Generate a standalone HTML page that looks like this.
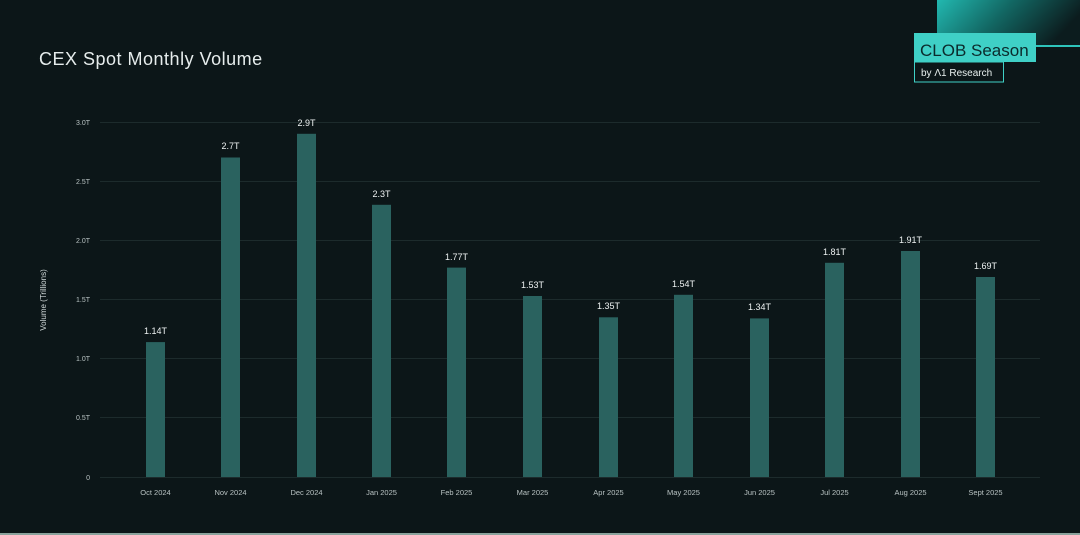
<!DOCTYPE html>
<html><head><meta charset="utf-8"><style>
html,body{margin:0;padding:0;background:#0c1618;}
svg{display:block;font-family:"Liberation Sans",sans-serif;}
</style></head><body>
<svg width="1080" height="535" viewBox="0 0 1080 535" xmlns="http://www.w3.org/2000/svg">
<defs>
<linearGradient id="g" x1="0" y1="0" x2="1" y2="0.3">
<stop offset="0" stop-color="#22b8b0"/>
<stop offset="0.5" stop-color="#126662"/>
<stop offset="1" stop-color="#0c1c1e"/>
</linearGradient>
</defs>
<rect width="1080" height="535" fill="#0c1618"/>
<rect x="0" y="533" width="1080" height="2" fill="#8aa39c"/>
<text x="39" y="65" font-size="18" letter-spacing="0.5" fill="#e6ecec">CEX Spot Monthly Volume</text>
<!-- logo -->
<rect x="937" y="0" width="143" height="46" fill="url(#g)"/>
<rect x="1036" y="45" width="44" height="2" fill="#2ec4bb"/>
<rect x="914" y="33" width="122" height="29" fill="#3fd0c6"/>
<text x="920" y="56" font-size="17" fill="#0b2b2c">CLOB Season</text>
<rect x="914.5" y="62" width="89" height="20" fill="#0c1618" stroke="#3fd0c6" stroke-width="1"/>
<text x="921" y="76" font-size="10" fill="#e8f0ef">by Λ1 Research</text>
<!-- grid -->
<g stroke="#1d2b2c" stroke-width="1">
<line x1="100" y1="122.5" x2="1040" y2="122.5"/>
<line x1="100" y1="181.5" x2="1040" y2="181.5"/>
<line x1="100" y1="240.5" x2="1040" y2="240.5"/>
<line x1="100" y1="299.5" x2="1040" y2="299.5"/>
<line x1="100" y1="358.5" x2="1040" y2="358.5"/>
<line x1="100" y1="417.5" x2="1040" y2="417.5"/>
<line x1="100" y1="477.5" x2="1040" y2="477.5"/>
</g>
<g font-size="7" fill="#b8c2c2" text-anchor="end">
<text x="90" y="125">3.0T</text><text x="90" y="184">2.5T</text><text x="90" y="243">2.0T</text>
<text x="90" y="302">1.5T</text><text x="90" y="361">1.0T</text><text x="90" y="420">0.5T</text><text x="90" y="480">0</text>
</g>
<text transform="translate(46,300) rotate(-90)" font-size="8" fill="#d0d8d8" text-anchor="middle">Volume (Trillions)</text>
<g fill="#2a625f">
<rect x="146" y="342.1" width="19" height="134.9"/>
<rect x="221" y="157.5" width="19" height="319.5"/>
<rect x="297" y="133.8" width="19" height="343.2"/>
<rect x="372" y="204.8" width="19" height="272.2"/>
<rect x="447" y="267.6" width="19" height="209.4"/>
<rect x="523" y="296" width="19" height="181"/>
<rect x="599" y="317.3" width="19" height="159.7"/>
<rect x="674" y="294.8" width="19" height="182.2"/>
<rect x="750" y="318.4" width="19" height="158.6"/>
<rect x="825" y="262.8" width="19" height="214.2"/>
<rect x="901" y="251" width="19" height="226"/>
<rect x="976" y="277" width="19" height="200"/>
</g>
<g font-size="9" fill="#eef2f2" text-anchor="middle">
<text x="155.5" y="334">1.14T</text>
<text x="230.5" y="149">2.7T</text>
<text x="306.5" y="126">2.9T</text>
<text x="381.5" y="197">2.3T</text>
<text x="456.5" y="260">1.77T</text>
<text x="532.5" y="288">1.53T</text>
<text x="608.5" y="309">1.35T</text>
<text x="683.5" y="287">1.54T</text>
<text x="759.5" y="310">1.34T</text>
<text x="834.5" y="255">1.81T</text>
<text x="910.5" y="243">1.91T</text>
<text x="985.5" y="269">1.69T</text>
</g>
<g font-size="7.5" fill="#b8c2c2" text-anchor="middle">
<text x="155.5" y="495">Oct 2024</text>
<text x="230.5" y="495">Nov 2024</text>
<text x="306.5" y="495">Dec 2024</text>
<text x="381.5" y="495">Jan 2025</text>
<text x="456.5" y="495">Feb 2025</text>
<text x="532.5" y="495">Mar 2025</text>
<text x="608.5" y="495">Apr 2025</text>
<text x="683.5" y="495">May 2025</text>
<text x="759.5" y="495">Jun 2025</text>
<text x="834.5" y="495">Jul 2025</text>
<text x="910.5" y="495">Aug 2025</text>
<text x="985.5" y="495">Sept  2025</text>
</g>
</svg>
</body></html>
